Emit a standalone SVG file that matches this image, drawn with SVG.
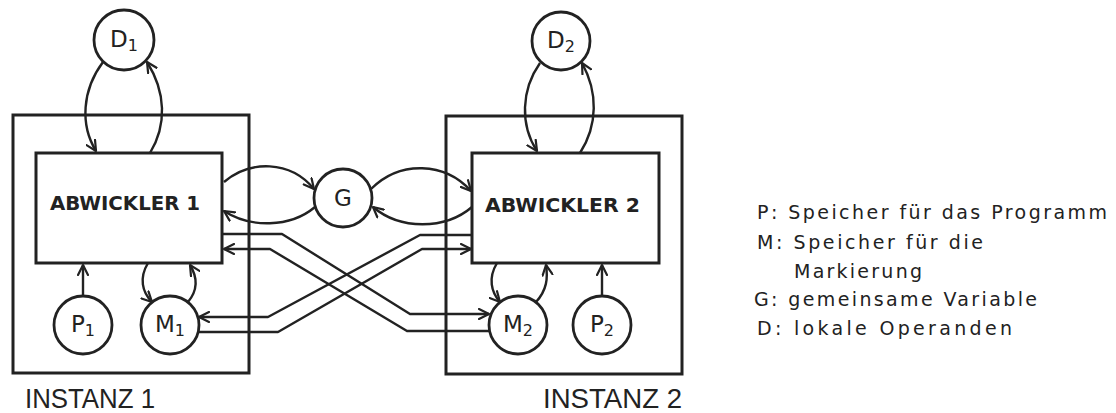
<svg xmlns="http://www.w3.org/2000/svg" width="1116" height="413" viewBox="0 0 1116 413">
<defs>
<marker id="arr" viewBox="0 0 12 12" refX="11" refY="6" markerWidth="12" markerHeight="12" markerUnits="userSpaceOnUse" orient="auto">
<path d="M1,1 L11,6 L1,11" fill="none" stroke="#222" stroke-width="2.2" stroke-linecap="round" stroke-linejoin="round"/>
</marker>
</defs>
<style>
.box{fill:none;stroke:#222;stroke-width:3}
.nd{fill:#fff;stroke:#222;stroke-width:2.8}
.ln{fill:none;stroke:#222;stroke-width:2.4;stroke-linejoin:round}
.ar{marker-end:url(#arr)}
.lb{font-family:"DejaVu Sans",sans-serif;font-size:23px;fill:#222;text-anchor:middle}
.sb{font-size:16px}
.tt{font-family:"DejaVu Sans",sans-serif;font-weight:bold;font-size:20px;fill:#222}
.it{font-family:"Liberation Sans",Arial,sans-serif;font-size:28px;fill:#222}
.lg{font-family:"DejaVu Sans",sans-serif;font-size:19px;fill:#222}
</style>
<rect width="1116" height="413" fill="#fff"/>
<g id="instanz1">
<rect class="box" x="13" y="115" width="236" height="258"/>
<text class="it" x="25" y="408" textLength="130" lengthAdjust="spacingAndGlyphs">INSTANZ 1</text>
</g>
<g id="instanz2">
<rect class="box" x="446" y="116" width="236" height="258"/>
<text class="it" x="543" y="408" textLength="139" lengthAdjust="spacingAndGlyphs">INSTANZ 2</text>
</g>
<g id="abwickler1">
<rect class="box" x="36" y="153" width="186" height="110"/>
<text class="tt" x="50" y="210" textLength="150" lengthAdjust="spacingAndGlyphs">ABWICKLER 1</text>
</g>
<g id="abwickler2">
<rect class="box" x="472" y="153" width="187" height="110"/>
<text class="tt" x="485" y="212" textLength="155" lengthAdjust="spacingAndGlyphs">ABWICKLER 2</text>
</g>
<g id="connectors">
<path class="ln ar" d="M103,62 C82,90 80,125 96,151"/>
<path class="ln ar" d="M150,153 C167,125 166,92 147,62"/>
<path class="ln ar" d="M540,63 C521,90 520,125 537,151"/>
<path class="ln ar" d="M580,153 C598,125 598,92 582,63"/>
<path class="ln ar" d="M224,182 C250,160 290,160 314,189"/>
<path class="ln ar" d="M315,207 C290,228 250,228 224,211"/>
<path class="ln ar" d="M371,189 C400,160 445,162 471,191"/>
<path class="ln ar" d="M472,207 C445,230 400,230 373,207"/>
<path class="ln ar" d="M223,234 L282,234 L410,314 L489,314"/>
<path class="ln ar" d="M490,331 L407,331 L270,249 L224,249"/>
<path class="ln ar" d="M472,235 L420,235 L268,317 L199,317"/>
<path class="ln ar" d="M199,332 L278,332 L422,249 L471,249"/>
<path class="ln ar" d="M148,263 C139,278 142,292 152,302"/>
<path class="ln ar" d="M188,302 C198,290 198,278 190,265"/>
<path class="ln ar" d="M497,263 C488,278 491,292 500,302"/>
<path class="ln ar" d="M536,302 C547,290 548,278 546,265"/>
<path class="ln ar" d="M83,296 L83,265"/>
<path class="ln ar" d="M602,296 L602,265"/>
</g>
<g id="D1"><circle class="nd" cx="124" cy="40" r="30"/><text class="lb" x="124" y="47">D<tspan class="sb" dy="4">1</tspan></text></g>
<g id="D2"><circle class="nd" cx="561" cy="41" r="29"/><text class="lb" x="561" y="48">D<tspan class="sb" dy="4">2</tspan></text></g>
<g id="G"><circle class="nd" cx="343" cy="198" r="29"/><text class="lb" x="343" y="206">G</text></g>
<g id="P1"><circle class="nd" cx="83" cy="325" r="29"/><text class="lb" x="83" y="332">P<tspan class="sb" dy="4">1</tspan></text></g>
<g id="M1"><circle class="nd" cx="170" cy="325" r="29"/><text class="lb" x="170" y="332">M<tspan class="sb" dy="4">1</tspan></text></g>
<g id="M2"><circle class="nd" cx="518" cy="325" r="29"/><text class="lb" x="518" y="332">M<tspan class="sb" dy="4">2</tspan></text></g>
<g id="P2"><circle class="nd" cx="602" cy="325" r="29"/><text class="lb" x="602" y="332">P<tspan class="sb" dy="4">2</tspan></text></g>
<g id="legend">
<text class="lg" x="757" y="219" textLength="350" lengthAdjust="spacing">P: Speicher für das Programm</text>
<text class="lg" x="757" y="249" textLength="226" lengthAdjust="spacing">M: Speicher für die</text>
<text class="lg" x="794" y="278" textLength="128" lengthAdjust="spacing">Markierung</text>
<text class="lg" x="754" y="306" textLength="283" lengthAdjust="spacing">G: gemeinsame Variable</text>
<text class="lg" x="757" y="335" textLength="255" lengthAdjust="spacing">D: lokale Operanden</text>
</g>
</svg>
